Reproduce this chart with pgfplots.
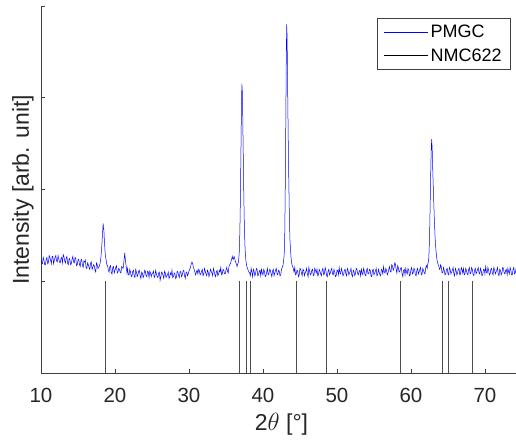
\documentclass[border=0pt]{standalone}
\usepackage{fontspec}
\setmainfont{Liberation Sans}
\usepackage{pgfplots}
\pgfplotsset{compat=1.18}
\definecolor{axgray}{gray}{0.25}
\begin{document}
\begin{tikzpicture}
\begin{axis}[
    scale only axis,
    width=475pt, height=367pt,
    xmin=10, xmax=74.2, ymin=0, ymax=4,
    axis x line*=bottom, axis y line*=left,
    axis line style={draw=axgray, line width=0.6pt, -},
    tick align=inside,
    tick style={draw=axgray, line width=0.6pt},
    major tick length=4pt,
    xtick={10,20,...,70}, ytick={1,2,3,4}, yticklabels={},
    /pgf/number format/assume math mode=true,
    tick label style={font=\fontsize{20.5}{24}\selectfont, text=black!85},
    xticklabel style={yshift=-12pt},
    xlabel={2$\theta$ [°]},
    ylabel={Intensity [arb. unit]},
    label style={font=\fontsize{23}{27}\selectfont, text=black!85},
    xlabel style={at={(axis description cs:0.5063,-0.139)}, anchor=center},
    ylabel style={at={(axis description cs:-0.038,0.499)}, anchor=center},
    legend style={at={(axis description cs:0.9895,0.967)}, anchor=north east,
        draw=axgray, line width=0.6pt, font=\fontsize{18}{21}\selectfont,
        inner xsep=7pt, inner ysep=5pt, row sep=5pt},
    legend cell align=left,
]
\coordinate (bl) at (rel axis cs:0,0);
\addlegendimage{legend image code/.code={\draw[blue, line width=0.5pt] (0pt,0pt) -- (44pt,0pt);}}
\addlegendentry{PMGC}
\addlegendimage{legend image code/.code={\draw[black, line width=0.5pt] (0pt,0pt) -- (44pt,0pt);}}
\addlegendentry{NMC622}

% NMC622 reference lines
\addplot[forget plot, ycomb, black!70, line width=0.6pt] coordinates {
(18.65,1) (36.75,1) (37.8,1) (38.35,1) (44.45,1) (48.6,1)
(58.55,1) (64.25,1) (65.0,1) (68.35,1)
};

% PMGC pattern
\addplot[forget plot, blue, line width=0.5pt] coordinates {
(10.0,1.25) (10.1,1.20) (10.2,1.19) (10.3,1.26) (10.4,1.23) (10.5,1.18)
(10.6,1.18) (10.7,1.24) (10.8,1.26) (10.9,1.19) (11.0,1.20) (11.1,1.28)
(11.2,1.26) (11.3,1.23) (11.4,1.19) (11.5,1.27) (11.6,1.27) (11.7,1.19)
(11.8,1.23) (11.9,1.26) (12.0,1.28) (12.1,1.22) (12.2,1.21) (12.3,1.28)
(12.4,1.24) (12.5,1.21) (12.6,1.20) (12.7,1.25) (12.8,1.26) (12.9,1.20)
(13.0,1.29) (13.1,1.27) (13.2,1.22) (13.3,1.20) (13.4,1.25) (13.5,1.27)
(13.6,1.19) (13.7,1.18) (13.8,1.25) (13.9,1.24) (14.0,1.18) (14.1,1.19)
(14.2,1.24) (14.3,1.27) (14.4,1.21) (14.5,1.20) (14.6,1.26) (14.7,1.25)
(14.8,1.17) (14.9,1.18) (15.0,1.23) (15.1,1.24) (15.2,1.18) (15.3,1.16)
(15.4,1.23) (15.5,1.24) (15.6,1.17) (15.7,1.15) (15.8,1.22) (15.9,1.21)
(16.0,1.23) (16.1,1.14) (16.2,1.14) (16.3,1.20) (16.4,1.18) (16.5,1.15)
(16.6,1.13) (16.7,1.20) (16.8,1.21) (16.9,1.13) (17.0,1.15) (17.1,1.18)
(17.2,1.17) (17.3,1.12) (17.4,1.10) (17.5,1.20) (17.6,1.18) (17.7,1.14)
(17.8,1.15) (17.9,1.17)
(18.0,1.20) (18.1,1.26) (18.2,1.36) (18.3,1.50) (18.4,1.63) (18.45,1.58)
(18.5,1.56) (18.55,1.47) (18.6,1.40) (18.65,1.33) (18.7,1.28) (18.8,1.23)
(18.9,1.18) (19.0,1.17) (19.1,1.12)
(19.2,1.10) (19.3,1.16) (19.4,1.17) (19.5,1.09) (19.6,1.08) (19.7,1.15)
(19.8,1.16) (19.9,1.09) (20.0,1.12) (20.1,1.15) (20.2,1.17) (20.3,1.09)
(20.4,1.10) (20.5,1.14) (20.6,1.13) (20.7,1.10) (20.8,1.09) (20.9,1.16)
(21.0,1.15) (21.1,1.14)
(21.15,1.17) (21.25,1.25) (21.32,1.31) (21.42,1.22) (21.55,1.14) (21.62,1.09)
(21.7,1.14) (21.8,1.07) (21.9,1.07) (22.0,1.13) (22.1,1.10) (22.2,1.05)
(22.3,1.06) (22.4,1.11) (22.5,1.12) (22.6,1.05) (22.7,1.04) (22.8,1.13)
(22.9,1.10) (23.0,1.05) (23.1,1.07) (23.2,1.11) (23.3,1.12) (23.4,1.06)
(23.5,1.03) (23.6,1.10) (23.7,1.09) (23.8,1.04) (23.9,1.06) (24.0,1.12)
(24.1,1.11) (24.2,1.06) (24.3,1.05) (24.4,1.11) (24.5,1.10) (24.6,1.04)
(24.7,1.11) (24.8,1.09) (24.9,1.05) (25.0,1.08) (25.1,1.09) (25.2,1.11)
(25.3,1.04) (25.4,1.06) (25.5,1.12) (25.6,1.08) (25.7,1.05) (25.8,1.04)
(25.9,1.09) (26.0,1.10) (26.1,1.01) (26.2,1.05) (26.3,1.10) (26.4,1.09)
(26.5,1.06) (26.6,1.03) (26.7,1.11) (26.8,1.09) (26.9,1.04) (27.0,1.06)
(27.1,1.07) (27.2,1.10) (27.3,1.03) (27.4,1.05) (27.5,1.09) (27.6,1.07)
(27.7,1.12) (27.8,1.04) (27.9,1.05) (28.0,1.09) (28.1,1.08) (28.2,1.03)
(28.3,1.04) (28.4,1.11) (28.5,1.10) (28.6,1.06) (28.7,1.04) (28.8,1.11)
(28.9,1.10) (29.0,1.05) (29.1,1.07) (29.2,1.11) (29.3,1.12) (29.4,1.06)
(29.5,1.03) (29.6,1.09) (29.7,1.10) (29.8,1.06) (29.9,1.08) (30.0,1.11)
(30.1,1.13) (30.2,1.15) (30.25,1.17) (30.3,1.19) (30.4,1.21) (30.5,1.19)
(30.55,1.17) (30.6,1.15) (30.7,1.13) (30.8,1.10)
(30.9,1.07) (31.0,1.10) (31.1,1.12) (31.2,1.08) (31.3,1.13) (31.4,1.12)
(31.5,1.07) (31.6,1.08) (31.7,1.11) (31.8,1.13) (31.9,1.06) (32.0,1.08)
(32.1,1.14) (32.2,1.11) (32.3,1.08) (32.4,1.06) (32.5,1.12) (32.6,1.10)
(32.7,1.05) (32.8,1.08) (32.9,1.13) (33.0,1.11) (33.1,1.09) (33.2,1.06)
(33.3,1.14) (33.4,1.11) (33.5,1.07) (33.6,1.05) (33.7,1.10) (33.8,1.12)
(33.9,1.06) (34.0,1.08) (34.1,1.12) (34.2,1.10) (34.3,1.15) (34.4,1.07)
(34.5,1.08) (34.6,1.13) (34.7,1.12) (34.8,1.08) (34.9,1.08) (35.0,1.12)
(35.1,1.15) (35.2,1.11) (35.3,1.09) (35.4,1.16) (35.5,1.18) (35.6,1.19)
(35.7,1.22) (35.8,1.25) (35.85,1.27) (35.9,1.25) (36.0,1.24) (36.05,1.26)
(36.1,1.27) (36.2,1.24) (36.25,1.22) (36.35,1.20) (36.4,1.19) (36.5,1.16)
(36.55,1.18) (36.65,1.20) (36.7,1.22) (36.8,1.32) (36.85,1.45) (36.9,1.65)
(36.95,1.90) (37.0,2.25) (37.05,2.60) (37.1,2.95) (37.15,3.15) (37.22,3.05)
(37.26,2.85) (37.3,2.60) (37.35,2.30) (37.4,2.00) (37.45,1.75) (37.5,1.55)
(37.56,1.40) (37.62,1.30) (37.7,1.22) (37.8,1.17) (37.9,1.14) (38.0,1.12)
(38.1,1.10) (38.2,1.09) (38.3,1.06) (38.4,1.14) (38.5,1.10) (38.6,1.05)
(38.7,1.13) (38.8,1.11) (38.9,1.06) (39.0,1.08) (39.1,1.14) (39.2,1.13)
(39.3,1.06) (39.4,1.07) (39.5,1.11) (39.6,1.12) (39.7,1.06) (39.8,1.13)
(39.9,1.09) (40.0,1.07) (40.1,1.13) (40.2,1.11) (40.3,1.05) (40.4,1.06)
(40.5,1.10) (40.6,1.14) (40.7,1.07) (40.8,1.08) (40.9,1.13) (41.0,1.12)
(41.1,1.08) (41.2,1.05) (41.3,1.11) (41.4,1.13) (41.5,1.06) (41.6,1.09)
(41.7,1.12) (41.8,1.14) (41.9,1.08) (42.0,1.07) (42.1,1.12) (42.2,1.11)
(42.3,1.06) (42.4,1.07) (42.5,1.13) (42.6,1.15) (42.7,1.17)
(42.75,1.20) (42.85,1.27) (42.9,1.35) (42.95,1.55) (43.0,1.90) (43.05,2.35)
(43.1,2.90) (43.15,3.40) (43.2,3.80) (43.25,3.70) (43.3,3.40) (43.35,3.00)
(43.4,2.65) (43.45,2.30) (43.5,2.05) (43.55,1.80) (43.6,1.60) (43.65,1.45)
(43.72,1.35) (43.8,1.25) (43.9,1.19) (43.95,1.17) (44.1,1.14) (44.2,1.10)
(44.3,1.15) (44.4,1.07) (44.5,1.08) (44.6,1.12) (44.7,1.11) (44.8,1.05)
(44.9,1.07) (45.0,1.14) (45.1,1.13) (45.2,1.09) (45.3,1.06) (45.4,1.13)
(45.5,1.12) (45.6,1.06) (45.7,1.09) (45.8,1.11) (45.9,1.14) (46.0,1.08)
(46.1,1.05) (46.2,1.15) (46.3,1.11) (46.4,1.07) (46.5,1.08) (46.6,1.12)
(46.7,1.13) (46.8,1.06) (46.9,1.07) (47.0,1.14) (47.1,1.12) (47.2,1.09)
(47.3,1.13) (47.4,1.06) (47.5,1.07) (47.6,1.13) (47.7,1.11) (47.8,1.08)
(47.9,1.06) (48.0,1.12) (48.1,1.14) (48.2,1.07) (48.3,1.08) (48.4,1.15)
(48.5,1.12) (48.6,1.06) (48.7,1.05) (48.8,1.11) (48.9,1.13) (49.0,1.07)
(49.1,1.09) (49.2,1.12) (49.3,1.14) (49.4,1.08) (49.5,1.07) (49.6,1.13)
(49.7,1.10) (49.8,1.05) (49.9,1.06) (50.0,1.12) (50.1,1.12) (50.2,1.07)
(50.3,1.15) (50.4,1.09) (50.5,1.08) (50.6,1.14) (50.7,1.11) (50.8,1.06)
(50.9,1.07) (51.0,1.12) (51.1,1.13) (51.2,1.08) (51.3,1.06) (51.4,1.14)
(51.5,1.12) (51.6,1.07) (51.7,1.09) (51.8,1.11) (51.9,1.14) (52.0,1.07)
(52.1,1.05) (52.2,1.12) (52.3,1.11) (52.4,1.06) (52.5,1.08) (52.6,1.14)
(52.7,1.13) (52.8,1.08) (52.9,1.07) (53.0,1.11) (53.1,1.12) (53.2,1.06)
(53.3,1.13) (53.4,1.09) (53.5,1.07) (53.6,1.14) (53.7,1.11) (53.8,1.07)
(53.9,1.06) (54.0,1.12) (54.1,1.14) (54.2,1.08) (54.3,1.08) (54.4,1.13)
(54.5,1.12) (54.6,1.06) (54.7,1.05) (54.8,1.12) (54.9,1.13) (55.0,1.07)
(55.1,1.09) (55.2,1.11) (55.3,1.14) (55.4,1.06) (55.5,1.07) (55.6,1.13)
(55.7,1.10) (55.8,1.07) (55.9,1.06) (56.0,1.13) (56.1,1.12) (56.2,1.08)
(56.3,1.16) (56.4,1.10) (56.5,1.09) (56.6,1.14) (56.7,1.12) (56.8,1.07)
(56.9,1.09) (57.0,1.13) (57.1,1.16) (57.2,1.11) (57.3,1.10) (57.4,1.18)
(57.5,1.17) (57.6,1.12) (57.7,1.14) (57.8,1.20) (57.9,1.19) (58.0,1.13)
(58.1,1.09) (58.2,1.17) (58.3,1.15) (58.4,1.10) (58.5,1.11) (58.6,1.14)
(58.7,1.15) (58.8,1.08) (58.9,1.05) (59.0,1.12) (59.1,1.13) (59.2,1.07)
(59.3,1.14) (59.4,1.10) (59.5,1.08) (59.6,1.14) (59.7,1.12) (59.8,1.06)
(59.9,1.07) (60.0,1.13) (60.1,1.15) (60.2,1.08) (60.3,1.09) (60.4,1.14)
(60.5,1.13) (60.6,1.07) (60.7,1.06) (60.8,1.12) (60.9,1.14) (61.0,1.08)
(61.1,1.10) (61.2,1.13) (61.3,1.15) (61.4,1.07) (61.5,1.08) (61.6,1.14)
(61.7,1.12) (61.8,1.09) (61.9,1.08) (62.0,1.15) (62.1,1.17) (62.2,1.14)
(62.25,1.18) (62.35,1.21) (62.4,1.24) (62.45,1.32) (62.5,1.45) (62.55,1.62)
(62.6,1.85) (62.65,2.08) (62.7,2.30) (62.75,2.45) (62.8,2.55) (62.87,2.45)
(62.95,2.20) (63.0,2.08) (63.05,1.95) (63.1,1.82) (63.15,1.70) (63.2,1.60)
(63.25,1.50) (63.32,1.40) (63.4,1.32) (63.48,1.26) (63.55,1.22) (63.65,1.19)
(63.75,1.17) (63.85,1.13) (63.95,1.14) (64.0,1.18)
(64.1,1.16) (64.2,1.09) (64.3,1.09) (64.4,1.15) (64.5,1.12) (64.6,1.07)
(64.7,1.08) (64.8,1.13) (64.9,1.14) (65.0,1.08) (65.1,1.07) (65.2,1.15)
(65.3,1.13) (65.4,1.08) (65.5,1.10) (65.6,1.12) (65.7,1.15) (65.8,1.08)
(65.9,1.06) (66.0,1.14) (66.1,1.12) (66.2,1.07) (66.3,1.09) (66.4,1.13)
(66.5,1.14) (66.6,1.07) (66.7,1.08) (66.8,1.15) (66.9,1.13) (67.0,1.09)
(67.1,1.14) (67.2,1.07) (67.3,1.08) (67.4,1.14) (67.5,1.12) (67.6,1.08)
(67.7,1.07) (67.8,1.13) (67.9,1.15) (68.0,1.08) (68.1,1.09) (68.2,1.15)
(68.3,1.13) (68.4,1.07) (68.5,1.06) (68.6,1.12) (68.7,1.14) (68.8,1.08)
(68.9,1.10) (69.0,1.13) (69.1,1.15) (69.2,1.09) (69.3,1.08) (69.4,1.14)
(69.5,1.11) (69.6,1.06) (69.7,1.07) (69.8,1.13) (69.9,1.13) (70.0,1.08)
(70.1,1.16) (70.2,1.10) (70.3,1.09) (70.4,1.15) (70.5,1.12) (70.6,1.07)
(70.7,1.08) (70.8,1.13) (70.9,1.14) (71.0,1.09) (71.1,1.07) (71.2,1.15)
(71.3,1.13) (71.4,1.08) (71.5,1.10) (71.6,1.12) (71.7,1.15) (71.8,1.08)
(71.9,1.06) (72.0,1.13) (72.1,1.12) (72.2,1.07) (72.3,1.09) (72.4,1.15)
(72.5,1.14) (72.6,1.09) (72.7,1.08) (72.8,1.12) (72.9,1.13) (73.0,1.07)
(73.1,1.14) (73.2,1.10) (73.3,1.08) (73.4,1.15) (73.5,1.12) (73.6,1.07)
(73.7,1.07) (73.8,1.13) (73.9,1.15) (74.0,1.08) (74.1,1.09) (74.2,1.14)
(74.3,1.13)
};
\end{axis}
\pgfresetboundingbox
\path (bl) ++(-41pt,-66pt) rectangle ++(516pt,439pt);
\end{tikzpicture}
\end{document}
